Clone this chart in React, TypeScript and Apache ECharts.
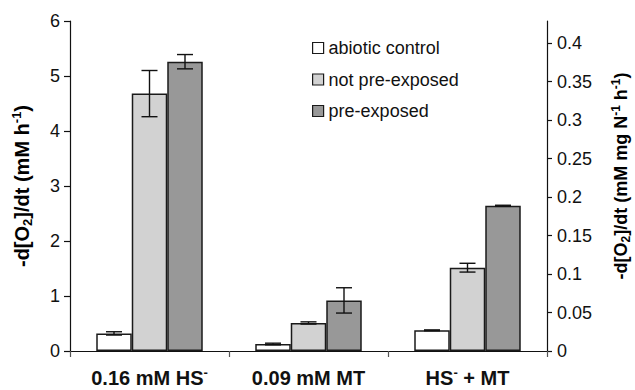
import React, { useEffect, useRef } from "react";
import * as echarts from "echarts";

const categories = ["0.16 mM HS-", "0.09 mM MT", "HS- + MT"];
const seriesNames = ["abiotic control", "not pre-exposed", "pre-exposed"];
const abiotic = [0.32, 0.127, 0.376];
const notPreExposed = [4.68, 0.51, 1.515];
const preExposed = [5.26, 0.92, 2.64];
const errAbiotic = [0.03, 0.015, 0.008];
const errNotPreExposed = [0.42, 0.02, 0.08];
const errPreExposed = [0.13, 0.23, 0.01];
const leftMax = 6;
const rightTicks = [0, 0.05, 0.1, 0.15, 0.2, 0.25, 0.3, 0.35, 0.4];
const rightFactor = 14; // mM h-1 per (mM mg N-1 h-1)

const FONT = "'Liberation Sans', Arial, Helvetica, sans-serif";
const INK = "#111111";
const colors = ["#ffffff", "#d2d2d2", "#989898"];
const BAR_W = 35.5;

export default function App() {
  const ref = useRef<HTMLDivElement>(null);

  useEffect(() => {
    if (!ref.current) return;
    const chart = echarts.init(ref.current, null, { renderer: "svg" });
    const values = [abiotic, notPreExposed, preExposed];
    const errs = [errAbiotic, errNotPreExposed, errPreExposed];
    const offsets = [-BAR_W, 0, BAR_W];

    const barSeries = values.map((vals, s) => ({
      name: seriesNames[s],
      type: "bar",
      data: vals,
      barWidth: BAR_W,
      barGap: "0%",
      itemStyle: { color: colors[s], borderColor: "#1a1a1a", borderWidth: 1.5 },
      z: 2,
    }));

    const errSeries = values.map((vals, s) => ({
      name: "err" + s,
      type: "custom",
      data: vals.map((v, i) => [i, v - errs[s][i], v + errs[s][i]]),
      encode: { x: 0, y: [1, 2] },
      z: 5,
      renderItem: (params: any, api: any) => {
        const hi = api.coord([api.value(0), api.value(2)]);
        const lo = api.coord([api.value(0), api.value(1)]);
        const cx = hi[0] + offsets[s];
        const hw = 8;
        const st = { stroke: INK, lineWidth: 1.4 };
        return {
          type: "group",
          children: [
            { type: "line", shape: { x1: cx, y1: hi[1], x2: cx, y2: lo[1] }, style: st },
            { type: "line", shape: { x1: cx - hw, y1: hi[1], x2: cx + hw, y2: hi[1] }, style: st },
            { type: "line", shape: { x1: cx - hw, y1: lo[1], x2: cx + hw, y2: lo[1] }, style: st },
          ],
        };
      },
    }));

    const subRich = {
      t: { fontFamily: FONT, fontWeight: "bold", fontSize: 20, lineHeight: 24, color: INK },
      sup: { fontFamily: FONT, fontWeight: "bold", fontSize: 13, lineHeight: 14, verticalAlign: "top", color: INK },
      sub: { fontFamily: FONT, fontWeight: "bold", fontSize: 13, lineHeight: 14, verticalAlign: "bottom", color: INK },
      t2: { fontFamily: FONT, fontWeight: "bold", fontSize: 18, lineHeight: 22, color: INK },
      sup2: { fontFamily: FONT, fontWeight: "bold", fontSize: 12, lineHeight: 13, verticalAlign: "top", color: INK },
      sub2: { fontFamily: FONT, fontWeight: "bold", fontSize: 12, lineHeight: 13, verticalAlign: "bottom", color: INK },
    };

    chart.setOption({
      animation: false,
      backgroundColor: "#ffffff",
      textStyle: { fontFamily: FONT },
      grid: { left: 70, right: 88, top: 21, bottom: 39, containLabel: false, outerBoundsMode: "none" },
      legend: {
        data: seriesNames,
        orient: "vertical",
        left: 312,
        top: 39,
        itemWidth: 11,
        itemHeight: 11,
        itemGap: 13.5,
        icon: "rect",
        padding: 0,
        textStyle: { fontFamily: FONT, fontSize: 18, color: INK },
        itemStyle: { borderColor: "#1a1a1a", borderWidth: 1.2 },
      },
      xAxis: {
        type: "category",
        data: categories,
        axisLine: { lineStyle: { color: INK, width: 1.2 } },
        axisTick: { show: true, inside: false, length: 6, lineStyle: { color: "#555", width: 1.2 } },
        axisLabel: {
          interval: 0,
          margin: 15,
          formatter: (v: string) => "{t|" + v.replace(/HS-/g, "HS}{sup|-}{t|") + "}",
          rich: subRich,
        },
      },
      yAxis: [
        {
          type: "value",
          min: 0,
          max: leftMax,
          interval: 1,
          splitLine: { show: false },
          axisLine: { show: true, lineStyle: { color: INK, width: 1.2 } },
          axisTick: { show: true, inside: false, length: 6, lineStyle: { color: INK, width: 1.2 } },
          axisLabel: { margin: 10, fontFamily: FONT, fontSize: 18, color: INK },
        },
        {
          type: "value",
          min: 0,
          max: leftMax / rightFactor,
          position: "right",
          splitLine: { show: false },
          axisLine: { show: true, lineStyle: { color: INK, width: 1.2 } },
          axisTick: { show: true, inside: false, length: 5, customValues: rightTicks, lineStyle: { color: INK, width: 1.2 } },
          axisLabel: { margin: 10, fontFamily: FONT, fontSize: 18, color: INK, customValues: rightTicks },
        },
      ],
      graphic: [
        {
          type: "text",
          x: 22,
          y: 186,
          rotation: Math.PI / 2,
          style: {
            text: "{t|-d[O}{sub|2}{t|]/dt (mM h}{sup|-1}{t|)}",
            rich: subRich,
            align: "center",
            verticalAlign: "middle",
          },
        },
        {
          type: "text",
          x: 621,
          y: 176,
          rotation: Math.PI / 2,
          style: {
            text: "{t2|-d[O}{sub2|2}{t2|]/dt (mM mg N}{sup2|-1}{t2| h}{sup2|-1}{t2|)}",
            rich: subRich,
            align: "center",
            verticalAlign: "middle",
          },
        },
      ],
      series: [...barSeries, ...errSeries],
    });

    return () => chart.dispose();
  }, []);

  return (
    <div
      ref={ref}
      style={{ position: "absolute", left: 0, top: 0, width: 635, height: 390 }}
    />
  );
}
